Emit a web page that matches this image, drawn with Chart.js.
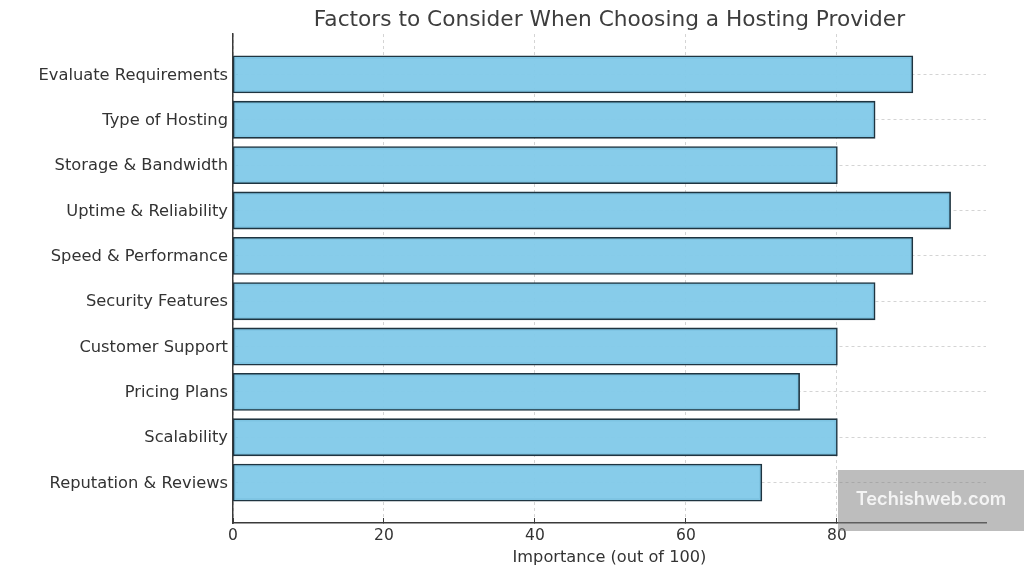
<!DOCTYPE html>
<html>
<head>
<meta charset="utf-8">
<title>Hosting provider factors</title>
<script src="https://cdn.jsdelivr.net/npm/chart.js@4/dist/chart.umd.min.js"></script>
<style>
	html, body { margin: 0; padding: 0; background: #fff; overflow: hidden; }
	#wrap { position: relative; width: 1024px; height: 576px; }
	#mark {
		position: absolute; left: 838px; top: 470px; width: 186px; height: 61px;
		background: rgba(128, 128, 128, 0.52); color: #f4f4f4;
		font: 600 18.3px Inter, sans-serif; line-height: 57px; text-align: center;
	}
</style>
</head>
<body>
<div id="wrap">
	<canvas id="hosting-chart" width="1024" height="576"></canvas>
	<div id="mark">Techishweb.com</div>
</div>
<script>
const categories = [
	"Evaluate Requirements", "Type of Hosting", "Storage & Bandwidth",
	"Uptime & Reliability", "Speed & Performance", "Security Features",
	"Customer Support", "Pricing Plans", "Scalability", "Reputation & Reviews",
];
const importance = [90, 85, 80, 95, 90, 85, 80, 75, 80, 70];
const xTicks = [0, 20, 40, 60, 80];

const font = "'DejaVu Sans'";
const textColor = "#333";
const axisColor = "#3a3a3a";
const gridColor = "#d4d4d4";

new Chart(document.getElementById("hosting-chart"), {
	type: "bar",
	data: {
		datasets: [
			{
				data: categories.map((name, i) => ({ x: importance[i], y: i })),
				backgroundColor: "rgba(130, 202, 233, 0.96)",
				borderColor: "#1f3440",
				borderWidth: 1.6,
				borderSkipped: false,
				inflateAmount: 0.8,
				barPercentage: 0.8,
				categoryPercentage: 1,
			},
		],
	},
	options: {
		indexAxis: "y",
		responsive: false,
		animation: false,
		layout: { padding: { left: 0, right: 38, top: 0, bottom: 0 } },
		plugins: {
			legend: { display: false },
			tooltip: { enabled: false },
			title: {
				display: true,
				fullSize: false,
				text: "Factors to Consider When Choosing a Hosting Provider",
				color: "#3d3d3d",
				font: { family: font, size: 21.7, weight: "normal" },
				padding: { top: 7, bottom: 1 },
			},
		},
		scales: {
			x: {
				type: "linear",
				min: 0,
				max: 99.75,
				afterBuildTicks: scale => {
					scale.ticks = xTicks.map(value => ({ value }));
				},
				afterFit: scale => {
					scale.height = 53;
				},
				grid: {
					color: gridColor,
					tickColor: axisColor,
					tickLength: -5,
					tickWidth: 1,
				},
				border: { color: axisColor, width: 1.5, dash: [3, 3], display: true },
				ticks: {
					color: textColor,
					padding: 9,
					maxRotation: 0,
					font: { family: font, size: 15.5 },
				},
				title: {
					display: true,
					text: "Importance (out of 100)",
					color: textColor,
					padding: { top: 3, bottom: 8 },
					font: { family: font, size: 16.2 },
				},
			},
			y: {
				type: "linear",
				reverse: true,
				min: -0.89,
				max: 9.89,
				offset: false,
				afterBuildTicks: scale => {
					scale.ticks = categories.map((name, i) => ({ value: i }));
				},
				afterFit: scale => {
					scale.width = 233;
				},
				grid: {
					offset: false,
					color: gridColor,
					tickColor: axisColor,
					tickLength: -5,
					tickWidth: 1,
				},
				border: { color: axisColor, width: 1.5, dash: [3, 3], display: true },
				ticks: {
					color: textColor,
					padding: 10,
					autoSkip: false,
					labelOffset: 1,
					font: { family: font, size: 16.3 },
					callback: value => categories[value],
				},
			},
		},
	},
});
</script>
</body>
</html>
